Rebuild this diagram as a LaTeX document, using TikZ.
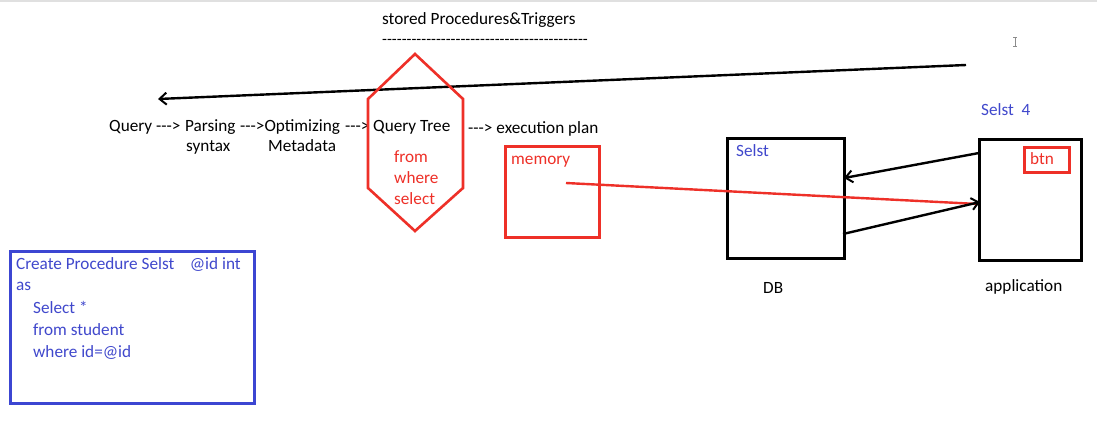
\documentclass[tikz,border=0pt]{standalone}
\usepackage{fontspec}
\setmainfont{Carlito}
\usetikzlibrary{arrows.meta}
\definecolor{myred}{RGB}{238,48,40}
\definecolor{myblue}{RGB}{64,72,204}
\definecolor{frameblue}{RGB}{60,70,210}
\begin{document}
\begin{tikzpicture}[x=1pt,y=-1pt,
  txt/.style={anchor=base west,inner sep=0pt,font=\fontsize{17.2}{20}\selectfont},
  rtxt/.style={txt,text=myred},
  btxt/.style={txt,text=myblue},
  redl/.style={line width=2.6pt,draw=myred},
  arr/.style={line width=2.4pt,-{Straight Barb[length=7pt,width=12pt,line width=2pt]}}
]
\useasboundingbox (0,0) rectangle (1097,436);
\fill[white] (0,0) rectangle (1097,436);
\draw[line width=1.5pt,black!12] (0,1) -- (1097,1);
% title
\node[txt] (title) at (382,25) {stored Procedures\&Triggers};
\node[txt,font=\fontsize{16}{19}\selectfont] (dashes) at (382,45) {-{}-{}-{}-{}-{}-{}-{}-{}-{}-{}-{}-{}-{}-{}-{}-{}-{}-{}-{}-{}-{}-{}-{}-{}-{}-{}-{}-{}-{}-{}-{}-{}-{}-{}-{}-{}-{}-{}-{}-{}-{}-};
% cursor (I-beam)
\draw[line width=0.9pt,black!45] (1013,37.5) -- (1017,37.5) (1015,37.5) -- (1015,46.5) (1013,46.5) -- (1017,46.5);
% long arrow
\coordinate (la) at (966,65);
\coordinate (lb) at (158,99);
\draw[arr] (la) -- (lb);
% pipeline
\node[txt] (q) at (109,131) {Query -{}-{}->};
\node[txt] (p) at (185,131) {Parsing};
\node[txt] (syn) at (186,151) {syntax};
\node[txt] (opt) at (240,131) {-{}-{}->Optimizing};
\node[txt] (meta) at (268,151) {Metadata};
\node[txt] (a3) at (345,131) {-{}-{}->};
\node[txt] (qt) at (373,131) {Query Tree};
\node[txt] (ep) at (468,133) {-{}-{}-> execution plan};
% hexagon
\draw[redl,line join=miter] (415,54) -- (463,99) -- (463,188) -- (415,231) -- (368,188) -- (368,99) -- cycle;
\node[rtxt] (from) at (394,162) {from};
\node[rtxt] (where) at (394,183) {where};
\node[rtxt] (sel) at (394,204) {select};
% memory
\node[draw=myred,line width=2.6pt,minimum width=94pt,minimum height=91pt,inner sep=0pt,anchor=north west] (mem) at (504,145) {};
\node[rtxt] (memt) at (511,164) {memory};
% DB
\node[draw=black,line width=2.8pt,minimum width=117pt,minimum height=120pt,inner sep=0pt,anchor=north west] (db) at (726,137) {};
\node[btxt] (dbsel) at (736,156) {Selst};
\node[txt] (dbl) at (763,293) {DB};
% application
\node[draw=black,line width=2.8pt,minimum width=102pt,minimum height=121pt,inner sep=0pt,anchor=north west] (app) at (978,138) {};
\node[draw=myred,line width=2.6pt,minimum width=45pt,minimum height=25pt,inner sep=0pt,anchor=north west] (btn) at (1023,146) {};
\node[rtxt] (btnt) at (1030,164) {btn};
\node[btxt] (s4) at (981,115) {Selst\ \ 4};
\node[txt] (appl) at (985,291) {application};
% connectors
\coordinate (mst) at (566,183);
\coordinate (appin) at (978,204);
\draw[line width=2.4pt,myred] (mst) -- (appin);
\coordinate (appout) at (979,153);
\coordinate (dbin) at (844,178);
\draw[arr] (appout) -- (dbin);
\coordinate (dbout) at (843,234);
\coordinate (appin2) at (980,202);
\draw[arr] (dbout) -- (appin2);
% procedure box
\node[draw=frameblue,line width=3pt,minimum width=244pt,minimum height=152pt,inner sep=0pt,anchor=north west] (proc) at (9,250) {};
\node[btxt] (l1) at (16,269) {Create Procedure Selst\ \ \ \ @id int};
\node[btxt] (l2) at (16,290) {as};
\node[btxt] (l3) at (33,313) {Select *};
\node[btxt] (l4) at (33,335) {from student};
\node[btxt] (l5) at (33,357) {where id=@id};
\end{tikzpicture}
\end{document}
